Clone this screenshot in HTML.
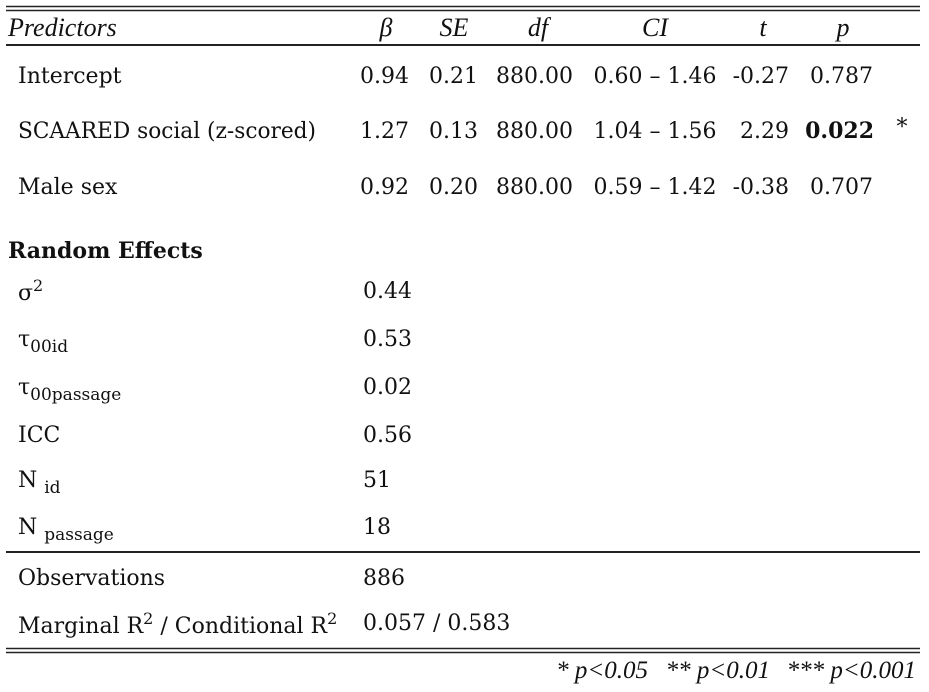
<!DOCTYPE html>
<html><head><meta charset="utf-8"><style>
html,body{margin:0;padding:0;background:#fff;}
svg{display:block;}
text{font-family:"DejaVu Serif","Liberation Serif",serif;font-size:22px;fill:#111;}
.h{font-family:"Liberation Serif","DejaVu Serif",serif;font-size:26px;font-style:italic;}
.f{font-family:"Liberation Serif","DejaVu Serif",serif;font-size:25px;font-style:italic;}
</style></head><body>
<svg width="929" height="692">
<g stroke="#222">
<line x1="6" x2="920" y1="6.5" y2="6.5" stroke-width="1.5"/>
<line x1="6" x2="920" y1="10.5" y2="10.5" stroke-width="1.5"/>
<line x1="6" x2="920" y1="45" y2="45" stroke-width="2"/>
<line x1="6" x2="920" y1="552" y2="552" stroke-width="2"/>
<line x1="6" x2="920" y1="648.5" y2="648.5" stroke-width="1.5"/>
<line x1="6" x2="920" y1="652.5" y2="652.5" stroke-width="1.5"/>
</g>
<g>
<text class="h" x="8" y="36">Predictors</text>
<text class="h" x="386" y="36" text-anchor="middle">β</text>
<text class="h" x="454" y="36" text-anchor="middle">SE</text>
<text class="h" x="538" y="36" text-anchor="middle">df</text>
<text class="h" x="655" y="36" text-anchor="middle">CI</text>
<text class="h" x="763" y="36" text-anchor="middle">t</text>
<text class="h" x="843" y="36" text-anchor="middle">p</text>
</g>
<g>
<text x="18" y="83">Intercept</text>
<text x="409" y="83" text-anchor="end">0.94</text><text x="478" y="83" text-anchor="end">0.21</text>
<text x="573" y="83" text-anchor="end">880.00</text><text x="655" y="83" text-anchor="middle">0.60 – 1.46</text>
<text x="789" y="83" text-anchor="end">-0.27</text><text x="873" y="83" text-anchor="end">0.787</text>
</g>
<g>
<text x="18" y="138" textLength="298" lengthAdjust="spacingAndGlyphs">SCAARED social (z-scored)</text>
<text x="409" y="138" text-anchor="end">1.27</text><text x="478" y="138" text-anchor="end">0.13</text>
<text x="573" y="138" text-anchor="end">880.00</text><text x="655" y="138" text-anchor="middle">1.04 – 1.56</text>
<text x="789" y="138" text-anchor="end">2.29</text><text x="874" y="138" text-anchor="end" font-weight="bold">0.022</text>
<text x="902" y="134" text-anchor="middle">*</text>
</g>
<g>
<text x="18" y="194">Male sex</text>
<text x="409" y="194" text-anchor="end">0.92</text><text x="478" y="194" text-anchor="end">0.20</text>
<text x="573" y="194" text-anchor="end">880.00</text><text x="655" y="194" text-anchor="middle">0.59 – 1.42</text>
<text x="789" y="194" text-anchor="end">-0.38</text><text x="873" y="194" text-anchor="end">0.707</text>
</g>
<text x="8" y="258" font-weight="bold">Random Effects</text>
<g>
<text x="18" y="300">σ<tspan font-size="16" dy="-9">2</tspan></text><text x="363" y="298">0.44</text>
<text x="18" y="346">τ<tspan font-size="17" dy="6">00id</tspan></text><text x="363" y="346">0.53</text>
<text x="18" y="394">τ<tspan font-size="17" dy="6">00passage</tspan></text><text x="363" y="394">0.02</text>
<text x="18" y="442">ICC</text><text x="363" y="442">0.56</text>
<text x="18" y="487">N <tspan font-size="17" dy="6">id</tspan></text><text x="363" y="487">51</text>
<text x="18" y="534">N <tspan font-size="17" dy="6">passage</tspan></text><text x="363" y="534">18</text>
</g>
<g>
<text x="18" y="585">Observations</text><text x="363" y="585">886</text>
<text x="18" y="633">Marginal R<tspan font-size="16" dy="-9">2</tspan><tspan dy="9"> / Conditional R</tspan><tspan font-size="16" dy="-9">2</tspan></text>
<text x="363" y="630">0.057 / 0.583</text>
</g>
<g>
<text class="f" x="648" y="678" text-anchor="end">* p&lt;0.05</text>
<text class="f" x="770" y="678" text-anchor="end">** p&lt;0.01</text>
<text class="f" x="916" y="678" text-anchor="end">*** p&lt;0.001</text>
</g>
</svg>
</body></html>
